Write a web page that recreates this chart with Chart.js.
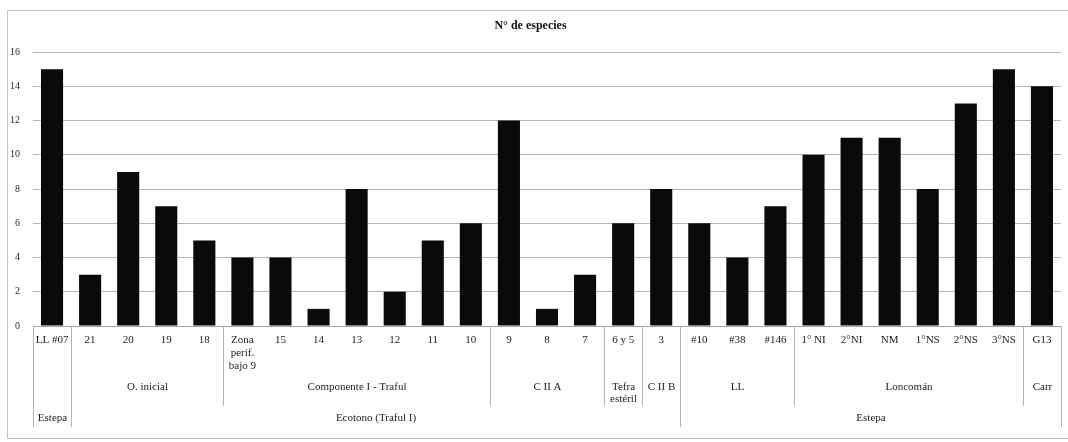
<!DOCTYPE html>
<html>
<head>
<meta charset="utf-8">
<script src="https://cdn.jsdelivr.net/npm/chart.js@4/dist/chart.umd.min.js"></script>
<style>
html, body { margin: 0; padding: 0; background: #fff; }
#wrap { width: 1068px; height: 442px; }
</style>
</head>
<body>
<div id="wrap"><canvas id="especies"></canvas></div>
<script>
'use strict'

var muestras = ['LL #07', '21', '20', '19', '18', ['Zona', 'perif.', 'bajo 9'], '15', '14', '13', '12', '11', '10',
    '9', '8', '7', '6 y 5', '3', '#10', '#38', '#146', '1° NI', '2°NI', 'NM', '1°NS', '2°NS', '3°NS', 'G13'];
var especies = [15, 3, 9, 7, 5, 4, 4, 1, 8, 2, 5, 6, 12, 1, 3, 6, 8, 6, 4, 7, 10, 11, 11, 8, 13, 15, 14];

var subgrupos = ['', 'O. inicial', 'Componente I - Traful', 'C II A', ['Tefra', 'estéril'], 'C II B', 'LL', 'Loncomán', 'Carr'];
var subgruposN = [1, 4, 7, 3, 1, 1, 3, 6, 1];

var zonas = ['Estepa', 'Ecotono (Traful I)', 'Estepa'];
var zonasN = [1, 16, 10];

var serif = "'Liberation Serif', 'DejaVu Serif', serif";
var texto = '#222';

var gruposPlugin = {
    id: 'grupos',
    beforeDraw: function (chart) {
        var ctx = chart.ctx;
        ctx.save();
        ctx.fillStyle = '#fff';
        ctx.fillRect(0, 0, chart.width, chart.height);
        ctx.strokeStyle = '#c4c4c4';
        ctx.lineWidth = 1;
        ctx.strokeRect(7.5, 10.5, chart.width, 428);
        ctx.restore();
    },
    afterDraw: function (chart) {
        var x = chart.scales.x;
        var ctx = chart.ctx;
        var base = chart.chartArea.bottom;
        var half = (x.getPixelForValue(1) - x.getPixelForValue(0)) / 2;

        function borde(i) {
            return Math.round(x.getPixelForValue(i) - half) + 0.5;
        }

        function nivel(nombres, tamanos, largo, yTexto) {
            var i = 0;
            ctx.beginPath();
            for (var g = 0; g <= nombres.length; g++) {
                ctx.moveTo(borde(i), base);
                ctx.lineTo(borde(i), base + largo);
                if (g < nombres.length) {
                    var centro = (borde(i) + borde(i + tamanos[g])) / 2;
                    var lineas = [].concat(nombres[g]);
                    lineas.forEach(function (l, k) {
                        ctx.fillText(l, centro, base + yTexto + k * 12);
                    });
                    i += tamanos[g];
                }
            }
            ctx.stroke();
        }

        ctx.save();
        ctx.strokeStyle = '#b4b4b4';
        ctx.lineWidth = 1;
        ctx.fillStyle = texto;
        ctx.font = '11px ' + serif;
        ctx.textAlign = 'center';
        ctx.textBaseline = 'middle';
        nivel(subgrupos, subgruposN, 80, 61);
        nivel(zonas, zonasN, 101, 92);
        ctx.restore();
    }
};

new Chart(document.getElementById('especies').getContext('2d'), {
    type: 'bar',
    data: {
        labels: muestras,
        datasets: [
            {
                label: 'N° de especies',
                backgroundColor: '#0a0a0a',
                borderWidth: 0,
                barPercentage: 0.58,
                categoryPercentage: 1,
                data: especies
            }
        ]
    },
    options: {
        responsive: true,
        maintainAspectRatio: false,
        animation: false,
        layout: { padding: { left: 0, right: 7, top: 0, bottom: 0 } },
        plugins: {
            legend: { display: false },
            tooltip: { enabled: false },
            title: {
                display: true,
                text: 'N° de especies',
                color: '#111',
                font: { family: serif, size: 12, weight: 'bold' },
                padding: { top: 19, bottom: 18.6 }
            }
        },
        scales: {
            x: {
                grid: { display: false, drawTicks: false },
                border: { display: true, color: '#a6a6a6', width: 1 },
                afterFit: function (scale) { scale.height = 116; },
                ticks: {
                    autoSkip: false,
                    maxRotation: 0,
                    minRotation: 0,
                    padding: 8,
                    color: texto,
                    font: { family: serif, size: 11, lineHeight: 1.15 }
                }
            },
            y: {
                min: 0,
                max: 16,
                grid: { color: '#b4b4b4', drawTicks: false },
                border: { display: false },
                afterFit: function (scale) { scale.width = 33; },
                ticks: {
                    stepSize: 2,
                    padding: 13,
                    color: texto,
                    font: { family: serif, size: 10 }
                }
            }
        }
    },
    plugins: [gruposPlugin]
});
</script>
</body>
</html>
